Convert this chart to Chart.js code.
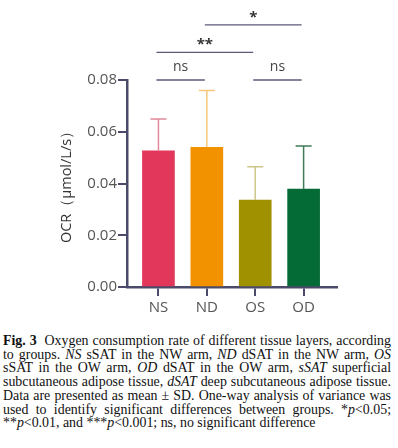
<!DOCTYPE html>
<html>
<head>
<meta charset="utf-8">
<script src="https://cdn.jsdelivr.net/npm/chart.js@4/dist/chart.umd.min.js"></script>
<style>
  body { margin: 0; background: #fff; }
  #wrap { width: 398px; height: 448px; position: relative; overflow: hidden; }
  #chart { display: block; }
  #caption {
    position: absolute; left: 3px; top: 334px; width: 388px;
    font-family: "Liberation Serif", "Times New Roman", serif;
    font-size: 13.9px; line-height: 13.7px; color: #111;
  }
  #caption div { white-space: nowrap; text-align: justify; text-align-last: justify; }
  #caption div.last { text-align-last: left; }
</style>
</head>
<body>
<div id="wrap">
  <canvas id="chart" width="398" height="325"></canvas>
  <div id="caption">
    <div><b>Fig. 3</b>&nbsp; Oxygen consumption rate of different tissue layers, according</div>
    <div>to groups. <i>NS</i> sSAT in the NW arm, <i>ND</i> dSAT in the NW arm, <i>OS</i></div>
    <div>sSAT in the OW arm, <i>OD</i> dSAT in the OW arm, <i>sSAT</i> superficial</div>
    <div>subcutaneous adipose tissue, <i>dSAT</i> deep subcutaneous adipose tissue.</div>
    <div>Data are presented as mean ± SD. One-way analysis of variance was</div>
    <div>used to identify significant differences between groups. *<i>p</i>&lt;0.05;</div>
    <div class="last">**<i>p</i>&lt;0.01, and ***<i>p</i>&lt;0.001; ns, no significant difference</div>
  </div>
</div>
<script>
const categories = ['NS', 'ND', 'OS', 'OD'];
const means = [0.0526, 0.0540, 0.0336, 0.0378];
const sds = [0.0123, 0.0219, 0.0129, 0.0167];
const yTicks = [0, 0.02, 0.04, 0.06, 0.08];
// [from, to, label, height]
const comparisons = [
  ['NS', 'ND', 'ns', 0.08],
  ['OS', 'OD', 'ns', 0.08],
  ['NS', 'OS', '**', 0.0907],
  ['ND', 'OD', '*', 0.1013]
];

const barColors = ['#e3365b', '#f39200', '#9f9100', '#046a36'];
const errColors = ['#e28a9b', '#f6c77d', '#cdc78a', '#3f7b57'];
const AXIS = '#4b4a6a';

Chart.defaults.font.family = "'Open Sans', sans-serif";
Chart.defaults.color = '#555';

const errorBars = {
  id: 'errorBars',
  afterDatasetsDraw(chart) {
    const ctx = chart.ctx;
    const y = chart.scales.y;
    const meta = chart.getDatasetMeta(0);
    ctx.save();
    meta.data.forEach((bar, i) => {
      const top = y.getPixelForValue(means[i] + sds[i]);
      const base = y.getPixelForValue(means[i]);
      ctx.strokeStyle = errColors[i];
      ctx.lineWidth = 1.5;
      ctx.beginPath();
      ctx.moveTo(bar.x, base);
      ctx.lineTo(bar.x, top);
      ctx.moveTo(bar.x - 8, top);
      ctx.lineTo(bar.x + 8, top);
      ctx.stroke();
    });
    ctx.restore();
  }
};

const brackets = {
  id: 'brackets',
  afterDraw(chart) {
    const ctx = chart.ctx;
    const xs = chart.scales.x, ys = chart.scales.y;
    ctx.save();
    comparisons.forEach(([a, b, label, h]) => {
      const x1 = xs.getPixelForValue(categories.indexOf(a)) - 2;
      const x2 = xs.getPixelForValue(categories.indexOf(b)) - 2;
      const yy = ys.getPixelForValue(h);
      ctx.strokeStyle = '#5b5a7a';
      ctx.lineWidth = 1.3;
      ctx.beginPath();
      ctx.moveTo(x1, yy);
      ctx.lineTo(x2, yy);
      ctx.stroke();
      ctx.textAlign = 'center';
      ctx.textBaseline = 'alphabetic';
      if (label === 'ns') {
        ctx.font = "14px 'Open Sans', sans-serif";
        ctx.fillStyle = '#444';
        ctx.fillText(label, (x1 + x2) / 2, yy - 9);
      } else {
        ctx.font = "bold 15px 'Open Sans', sans-serif";
        ctx.fillStyle = '#333';
        ctx.fillText(label, (x1 + x2) / 2, yy - 3);
      }
    });
    ctx.restore();
  }
};

new Chart(document.getElementById('chart'), {
  type: 'bar',
  data: {
    datasets: [{
      data: means.map((m, i) => ({ x: i, y: m })),
      backgroundColor: barColors,
      borderWidth: 0,
      barThickness: 32
    }]
  },
  options: {
    responsive: false,
    animation: false,
    devicePixelRatio: 1,
    layout: { padding: { top: 80, left: 50, right: 61, bottom: 8 } },
    plugins: { legend: { display: false }, tooltip: { enabled: false } },
    scales: {
      x: {
        type: 'linear',
        offset: false,
        min: -0.65,
        max: 3.69,
        afterBuildTicks: s => { s.ticks = categories.map((c, i) => ({ value: i })); },
        afterFit: s => { s.height = 30; },
        grid: { offset: false, drawOnChartArea: false, tickLength: 9, color: AXIS, lineWidth: 2 },
        border: { color: AXIS, width: 2.5 },
        ticks: { callback: v => categories[v], font: { size: 15 }, color: '#555', padding: 3, maxRotation: 0 }
      },
      y: {
        min: 0,
        max: 0.08,
        afterBuildTicks: s => { s.ticks = yTicks.map(v => ({ value: v })); },
        afterFit: s => { s.width = 77; },
        grid: { drawOnChartArea: false, tickLength: 9, color: AXIS, lineWidth: 2 },
        border: { color: AXIS, width: 2.5 },
        ticks: { callback: v => v.toFixed(2), font: { size: 15 }, color: '#555', padding: 1 },
        title: {
          display: true,
          text: 'OCR（μmol/L/s）',
          font: { size: 14.5 },
          color: '#333',
          padding: { top: 8, bottom: 0 }
        }
      }
    }
  },
  plugins: [errorBars, brackets]
});
</script>
</body>
</html>
